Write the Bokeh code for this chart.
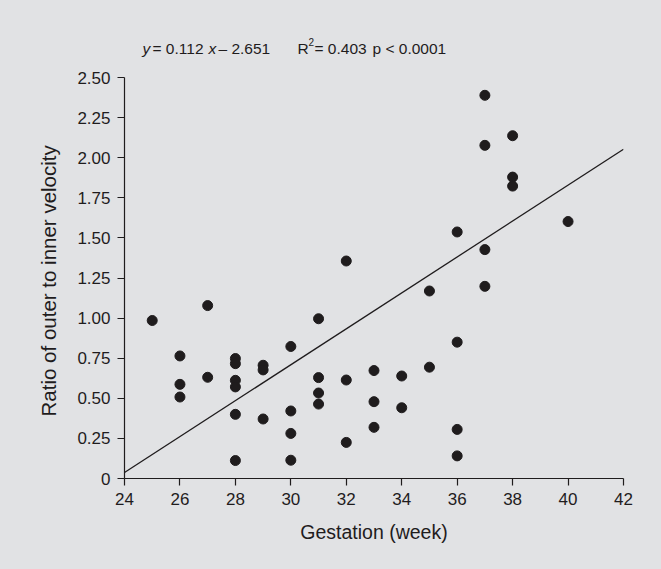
from bokeh.plotting import figure
from bokeh.models import Range1d, FixedTicker, Label, ColumnDataSource
from bokeh.layouts import column
from bokeh.embed import file_html
from bokeh.resources import INLINE

# ---- data ----
gestation = [25,
             26, 26, 26,
             27, 27,
             28, 28, 28, 28, 28, 28,
             29, 29, 29,
             30, 30, 30, 30,
             31, 31, 31, 31,
             32, 32, 32,
             33, 33, 33,
             34, 34,
             35, 35,
             36, 36, 36, 36,
             37, 37, 37, 37,
             38, 38, 38,
             40]
ratio = [0.985,
         0.764, 0.587, 0.508,
         1.078, 0.631,
         0.748, 0.716, 0.612, 0.571, 0.400, 0.112,
         0.706, 0.677, 0.371,
         0.823, 0.421, 0.281, 0.114,
         0.996, 0.629, 0.533, 0.464,
         1.356, 0.614, 0.225,
         0.673, 0.479, 0.319,
         0.639, 0.441,
         1.169, 0.694,
         1.537, 0.850, 0.306, 0.141,
         2.389, 2.077, 1.427, 1.198,
         2.137, 1.879, 1.823,
         1.602]
slope = 0.112
intercept = -2.651
x_ticks = [24, 26, 28, 30, 32, 34, 36, 38, 40, 42]
y_ticks = [0, 0.25, 0.5, 0.75, 1.0, 1.25, 1.5, 1.75, 2.0, 2.25, 2.5]
y_tick_labels = ["0", "0.25", "0.50", "0.75", "1.00", "1.25", "1.50", "1.75", "2.00", "2.25", "2.50"]
x_label = "Gestation (week)"
y_label = "Ratio of  outer to inner velocity"

BG = "#e1e2e4"
INK = "#1f1c1d"
FONT = "Liberation Sans"

W, H = 661, 569
TH = 60                      # height of the title strip
L, R, T, B = 124, 38, 77, 91

# ---- title strip (its own small figure so the text is not clipped) ----
pt = figure(width=W, height=TH, output_backend="svg", toolbar_location=None,
            x_range=Range1d(0, 1), y_range=Range1d(0, 1),
            min_border_left=L, min_border_right=R, min_border_top=0, min_border_bottom=0)
pt.xaxis.visible = False
pt.yaxis.visible = False
pt.grid.visible = False
pt.outline_line_color = None
pt.background_fill_alpha = 0
pt.border_fill_color = BG
pt.border_fill_alpha = 1

base = 48
pieces = [
    ("y", 142, base, "italic", "15.5px"),
    ("= 0.112", 152, base, "normal", "15.5px"),
    ("x", 208, base, "italic", "15.5px"),
    ("\u2013 2.651", 218, base, "normal", "15.5px"),
    ("R", 297, base, "normal", "15.5px"),
    ("2", 308, base - 7, "normal", "10px"),
    ("= 0.403", 314, base, "normal", "15.5px"),
    ("p < 0.0001", 372, base, "normal", "15.5px"),
]
for txt, px, py, style, fs in pieces:
    # screen units are measured from the frame's left and bottom edges
    pt.add_layout(Label(x=px - L, y=TH - py, x_units="screen", y_units="screen", text=txt,
                        text_font=FONT, text_font_size=fs, text_font_style=style,
                        text_color=INK, text_baseline="alphabetic", text_align="left"))

# ---- main scatter plot ----
p = figure(width=W, height=H - TH, output_backend="svg", toolbar_location=None,
           x_range=Range1d(24, 42), y_range=Range1d(0, 2.5),
           min_border_left=L, min_border_right=R, min_border_top=T - TH, min_border_bottom=B)
p.background_fill_color = BG
p.border_fill_color = BG
p.outline_line_color = None
p.grid.visible = False

for ax in (p.xaxis[0], p.yaxis[0]):
    ax.axis_line_color = INK
    ax.axis_line_width = 1.2
    ax.major_tick_line_color = INK
    ax.major_tick_line_width = 1.2
    ax.major_tick_in = 0
    ax.major_tick_out = 7
    ax.minor_tick_line_color = None
    ax.major_label_text_font = FONT
    ax.major_label_text_font_size = "17px"
    ax.major_label_text_color = INK
    ax.axis_label_text_font = FONT
    ax.axis_label_text_font_size = "19.5px"
    ax.axis_label_text_font_style = "normal"
    ax.axis_label_text_color = INK
    ax.major_label_standoff = 7

p.xaxis[0].ticker = FixedTicker(ticks=x_ticks)
p.yaxis[0].ticker = FixedTicker(ticks=y_ticks)
p.yaxis[0].major_label_overrides = {t: s for t, s in zip(y_ticks, y_tick_labels)}
p.xaxis[0].axis_label = x_label
p.yaxis[0].axis_label = y_label
p.yaxis[0].axis_label_text_font_size = "20.5px"
p.xaxis[0].axis_label_standoff = 13
p.yaxis[0].axis_label_standoff = 14

# regression line
xs = [x_ticks[0], x_ticks[-1]]
ys = [slope * x + intercept for x in xs]
p.line(xs, ys, line_color=INK, line_width=1.3)

src = ColumnDataSource(dict(x=gestation, y=ratio))
p.scatter("x", "y", source=src, size=10, fill_color=INK, line_color=INK)

layout = column(pt, p, spacing=0, styles={"background-color": BG})
open("out.html", "w").write(file_html(layout, INLINE))
